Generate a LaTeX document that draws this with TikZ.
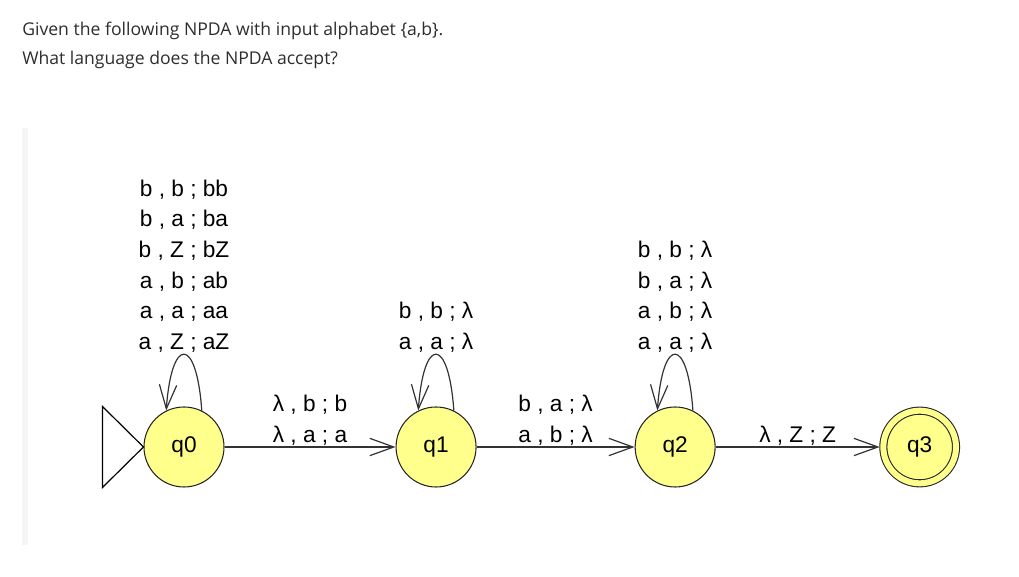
\documentclass[tikz,border=0pt]{standalone}
\usepackage{fontspec}
\setmainfont{Liberation Sans}
\newfontfamily\headfont{Open Sans}
\usepackage{xcolor}
\usepackage{tikz}
\usetikzlibrary{arrows.meta,positioning}

\definecolor{statefill}{RGB}{255,255,140}
\definecolor{headgray}{RGB}{45,45,45}
\definecolor{bargray}{RGB}{245,245,245}

\begin{document}
\begin{tikzpicture}[
    x=0.75pt, y=0.75pt,
    state/.style={circle, draw=black!85, line width=0.8pt, minimum size=60pt, fill=statefill, font=\fontsize{17}{20}\selectfont},
    accepting/.style={minimum size=54.5pt, double=statefill, double distance=4.5pt, outer sep=2.75pt},
    trans/.style={-{Straight Barb[length=18pt,width=13pt]}, line width=0.9pt, draw=black!80},
    lab/.style={align=center, font=\fontsize{17}{23}\selectfont, inner sep=1pt},
    head/.style={anchor=base west, inner sep=0pt, text=headgray, font=\headfont\fontsize{13.2}{16}\selectfont}
]
\useasboundingbox (0,0) rectangle (1019,577);

\node[head] (given) at (22,541) {Given the following NPDA with input alphabet \{a,b\}.};
\node[head] (question) at (22,512) {What language does the NPDA accept?};

\fill[bargray] (22,32) rectangle (28,449);

\node[state] (q0) at (184,130) {q0};
\node[state, right=128.25pt of q0] (q1) {q1};
\node[state, right=118.5pt of q1] (q2) {q2};
\node[state, accepting, right=123pt of q2] (q3) {q3};

% start marker
\draw[line width=0.9pt] (q0.west) -- ++(-41,40.5) -- ++(0,-81) -- cycle;

\draw[trans] (q0) -- node[lab, above] {λ , b ; b\\λ , a ; a} (q1);
\draw[trans] (q1) -- node[lab, above] {b , a ; λ\\a , b ; λ} (q2);
\draw[trans] (q2) -- node[lab, above] {λ , Z ; Z} (q3);

% self loops
\draw[trans] (q0.64) .. controls +(94:75) and +(86:75) .. node[lab, above]
    {b , b ; bb\\b , a ; ba\\b , Z ; bZ\\a , b ; ab\\a , a ; aa\\a , Z ; aZ} (q0.116);
\draw[trans] (q1.64) .. controls +(94:75) and +(86:75) .. node[lab, above]
    {b , b ; λ\\a , a ; λ} (q1.116);
\draw[trans] (q2.64) .. controls +(94:75) and +(86:75) .. node[lab, above]
    {b , b ; λ\\b , a ; λ\\a , b ; λ\\a , a ; λ} (q2.116);

\end{tikzpicture}
\end{document}
